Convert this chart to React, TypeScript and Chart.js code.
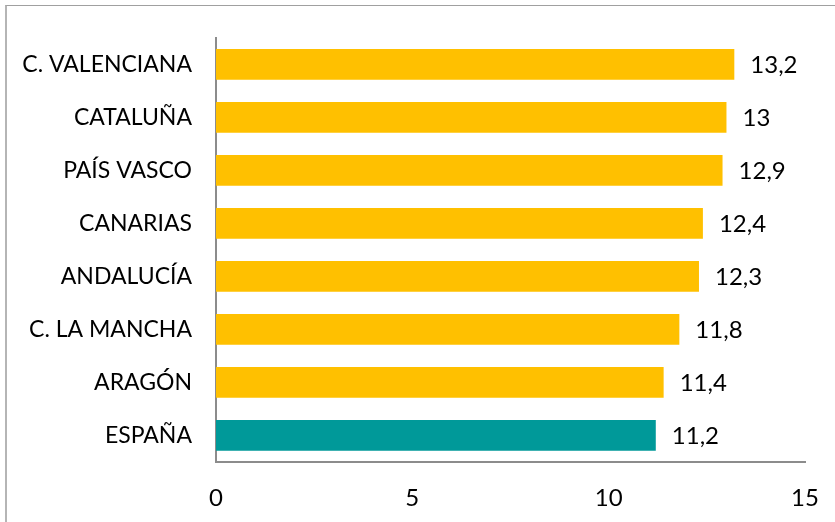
import React, { useEffect, useRef } from "react";
import { Chart, registerables } from "chart.js";

Chart.register(...registerables);

const categories = [
  "C. VALENCIANA",
  "CATALUÑA",
  "PAÍS VASCO",
  "CANARIAS",
  "ANDALUCÍA",
  "C. LA MANCHA",
  "ARAGÓN",
  "ESPAÑA",
];
const values = [13.2, 13, 12.9, 12.4, 12.3, 11.8, 11.4, 11.2];
const barColors = [
  "#FFC000",
  "#FFC000",
  "#FFC000",
  "#FFC000",
  "#FFC000",
  "#FFC000",
  "#FFC000",
  "#009999",
];
const xTicks = [0, 5, 10, 15];

const FONT = "Lato, 'Open Sans', sans-serif";
const FONT_SIZE = 23;
const NUM_SIZE = 24;

const valueLabels = {
  id: "valueLabels",
  afterDatasetsDraw(chart: any) {
    const ctx = chart.ctx;
    const meta = chart.getDatasetMeta(0);
    ctx.save();
    ctx.font = `${NUM_SIZE}px ${FONT}`;
    ctx.fillStyle = "#000";
    ctx.textAlign = "left";
    ctx.textBaseline = "middle";
    meta.data.forEach((bar: any, i: number) => {
      const txt = String(values[i]).replace(".", ",");
      ctx.fillText(txt, bar.x + 16, bar.y + 1);
    });
    ctx.restore();
  },
};

export default function App() {
  const ref = useRef<HTMLCanvasElement>(null);
  useEffect(() => {
    document.body.style.margin = "0";
    document.body.style.overflow = "hidden";
    const chart = new Chart(ref.current!, {
      type: "bar",
      data: {
        labels: categories,
        datasets: [
          {
            data: values,
            backgroundColor: barColors,
            barPercentage: 0.58,
            categoryPercentage: 1,
          },
        ],
      },
      options: {
        indexAxis: "y",
        animation: false,
        responsive: false,
        maintainAspectRatio: false,
        layout: { padding: { top: 35, right: 30, left: 0, bottom: 0 } },
        plugins: {
          legend: { display: false },
          tooltip: { enabled: false },
        },
        scales: {
          x: {
            min: 0,
            max: 15,
            afterBuildTicks(scale: any) {
              scale.ticks = xTicks.map((v) => ({ value: v }));
            },
            afterFit(scale: any) {
              scale.height = 60;
              scale.paddingRight = 0;
              scale.paddingLeft = 0;
            },
            grid: { display: false, drawTicks: false },
            border: { display: true, color: "#8c8c8c", width: 2 },
            ticks: {
              color: "#000",
              padding: 22,
              maxRotation: 0,
              font: { family: FONT, size: NUM_SIZE },
            },
          },
          y: {
            afterFit(scale: any) {
              scale.width = 216;
            },
            grid: { display: false, drawTicks: false },
            border: { display: true, color: "#8c8c8c", width: 2 },
            ticks: {
              color: "#000",
              padding: 24,
              font: { family: FONT, size: FONT_SIZE },
            },
          },
        },
      },
      plugins: [valueLabels],
    });
    return () => chart.destroy();
  }, []);

  return (
    <div
      style={{
        position: "fixed",
        left: 0,
        top: 0,
        width: 835,
        height: 522,
        overflow: "hidden",
        background: "#fff",
      }}
    >
      <div
        style={{
          position: "absolute",
          left: 5,
          top: 5,
          width: 860,
          height: 560,
          borderLeft: "2px solid #b5b5b5",
          borderTop: "1.5px solid #a0a0a0",
          boxSizing: "border-box",
        }}
      />
      <canvas
        ref={ref}
        width={835}
        height={522}
        style={{ position: "absolute", left: 0, top: 0, width: 835, height: 522 }}
      />
    </div>
  );
}
